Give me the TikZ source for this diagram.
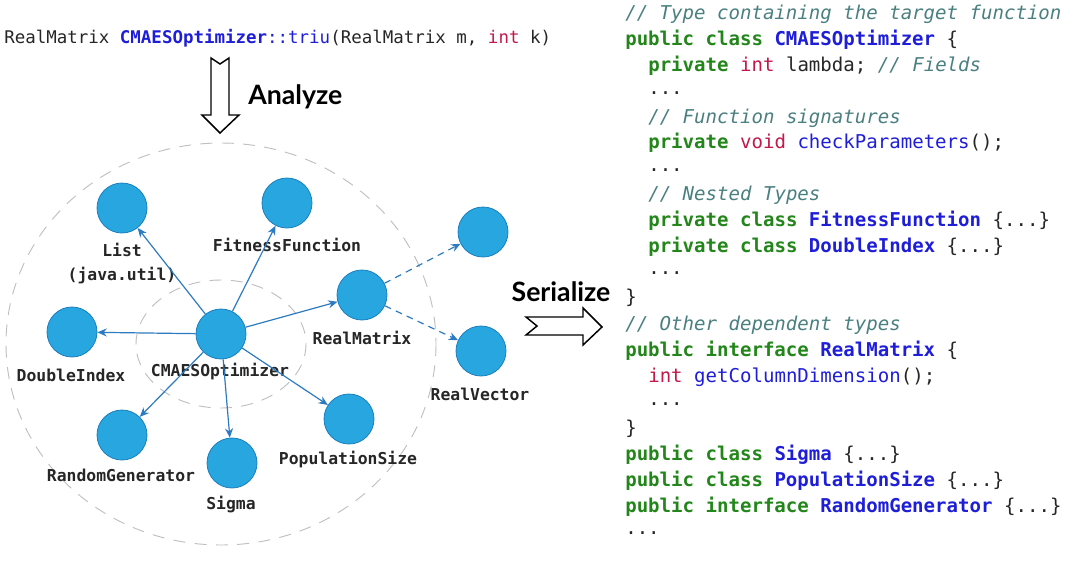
\documentclass[tikz,border=0pt]{standalone}
\usepackage{fontspec}
\newfontfamily\mono{DejaVu Sans Mono}
\newfontfamily\bigsans{Lato}
\usetikzlibrary{arrows.meta}
\definecolor{kwg}{HTML}{23861A}
\definecolor{tyb}{HTML}{1E1ED8}
\definecolor{rdr}{HTML}{C2184A}
\definecolor{cmt}{HTML}{4A7F80}
\definecolor{nodef}{HTML}{27A6DF}
\definecolor{noded}{HTML}{1C7FBE}
\definecolor{edgec}{HTML}{2C7BC0}
\newcommand\kw[1]{\textcolor{kwg}{\bfseries #1}}
\newcommand\ty[1]{\textcolor{tyb}{\bfseries #1}}
\newcommand\tyn[1]{\textcolor{tyb}{#1}}
\newcommand\rdk[1]{\textcolor{rdr}{#1}}
\newcommand\cmt[1]{\textcolor{cmt}{\itshape #1}}
\tikzset{
  dep/.style={circle,minimum size=37.5pt,inner sep=0pt,fill=nodef,draw=noded,line width=0.6pt},
  lbl/.style={font=\mono\fontsize{12.3}{14}\selectfont\bfseries,text=black!85,inner sep=0pt},
  code/.style={anchor=west,font=\mono\fontsize{14.3}{16}\selectfont,inner sep=0pt,text=black!85},
  e/.style={draw=edgec,line width=0.9pt,-{Stealth[length=7pt,width=6pt]}},
  ed/.style={e,dash pattern=on 5pt off 4pt},
  ring/.style={draw=black!25,line width=0.7pt,dash pattern=on 9pt off 7pt},
  blk/.style={draw=black,line width=1.1pt,fill=white}
}
\begin{document}
\begin{tikzpicture}[x=0.75pt,y=-0.75pt]
\useasboundingbox (0,0) rectangle (1080,564);
% rings
\draw[ring] (221,344) ellipse [x radius=215,y radius=201];
\draw[ring] (221,344) ellipse [x radius=85,y radius=64];
% signature
\node[anchor=west,font=\mono\fontsize{13.1}{15}\selectfont,inner sep=0pt,text=black!85] (sig) at (4,38)
 {RealMatrix \ty{CMAESOptimizer}\tyn{::triu}(RealMatrix m, \rdk{int} k)};
% analyze arrow
\draw[blk] (211,58) -- (220,64) -- (229,58) -- (229,115) -- (239,115) -- (220,133) -- (202,115) -- (211,115) -- cycle;
\node[font=\bigsans\bfseries\fontsize{20}{22}\selectfont,anchor=west,inner sep=0pt] (an) at (248,97) {Analyze};
% serialize arrow
\draw[blk] (526,317) -- (583,317) -- (583,308) -- (602,327) -- (583,345) -- (583,335) -- (526,335) -- (537,326) -- cycle;
\node[font=\bigsans\bfseries\fontsize{20}{22}\selectfont,inner sep=0pt] (se) at (561,292) {Serialize};
% nodes
\node[dep] (c) at (221,334) {};
\node[dep] (list) at (122,208) {};
\node[dep] (fit) at (287,203) {};
\node[dep] (rm) at (362,295) {};
\node[dep] (tr) at (483,232) {};
\node[dep] (rv) at (481,351) {};
\node[dep] (di) at (72,332) {};
\node[dep] (rg) at (122,435) {};
\node[dep] (sg) at (232,463) {};
\node[dep] (ps) at (349,419) {};
% labels
\node[lbl] (l1) at (122,250) {List};
\node[lbl] (l1b) at (122,276) {(java.util)};
\node[lbl] (l2) at (287,245) {FitnessFunction};
\node[lbl] (l3) at (362,338) {RealMatrix};
\node[lbl] (l4) at (480,394) {RealVector};
\node[lbl] (l5) at (71,375) {DoubleIndex};
\node[lbl] (l6) at (220,372) {CMAESOptimizer};
\node[lbl] (l7) at (121,475) {RandomGenerator};
\node[lbl] (l8) at (348,460) {PopulationSize};
\node[lbl] (l9) at (231,505) {Sigma};
% edges
\foreach \t in {list,fit,rm,di,rg,sg,ps} \draw[e] (c) -- (\t);
\draw[ed] (rm) -- (tr);
\draw[ed] (rm) -- (rv);
% code
\node[code] (k0) at (625,14) {\cmt{// Type containing the target function}};
\node[code] (k1) at (625,40) {\kw{public class} \ty{CMAESOptimizer} \{};
\node[code] (k2) at (648,66) {\kw{private} \rdk{int} lambda; \cmt{// Fields}};
\node[code] (k3) at (648,93) {...};
\node[code] (k4) at (648,118) {\cmt{// Function signatures}};
\node[code] (k5) at (648,143) {\kw{private} \rdk{void} \tyn{checkParameters}();};
\node[code] (k6) at (648,170) {...};
\node[code] (k7) at (648,195) {\cmt{// Nested Types}};
\node[code] (k8) at (648,221) {\kw{private class} \ty{FitnessFunction} \{...\}};
\node[code] (k9) at (648,247) {\kw{private class} \ty{DoubleIndex} \{...\}};
\node[code] (k10) at (648,273) {...};
\node[code] (k11) at (625,298) {\}};
\node[code] (k12) at (625,325) {\cmt{// Other dependent types}};
\node[code] (k13) at (625,351) {\kw{public interface} \ty{RealMatrix} \{};
\node[code] (k14) at (648,377) {\rdk{int} \tyn{getColumnDimension}();};
\node[code] (k15) at (648,404) {...};
\node[code] (k16) at (625,429) {\}};
\node[code] (k17) at (625,455) {\kw{public class} \ty{Sigma} \{...\}};
\node[code] (k18) at (625,481) {\kw{public class} \ty{PopulationSize} \{...\}};
\node[code] (k19) at (625,507) {\kw{public interface} \ty{RandomGenerator} \{...\}};
\node[code] (k20) at (625,533) {...};
\end{tikzpicture}
\end{document}
